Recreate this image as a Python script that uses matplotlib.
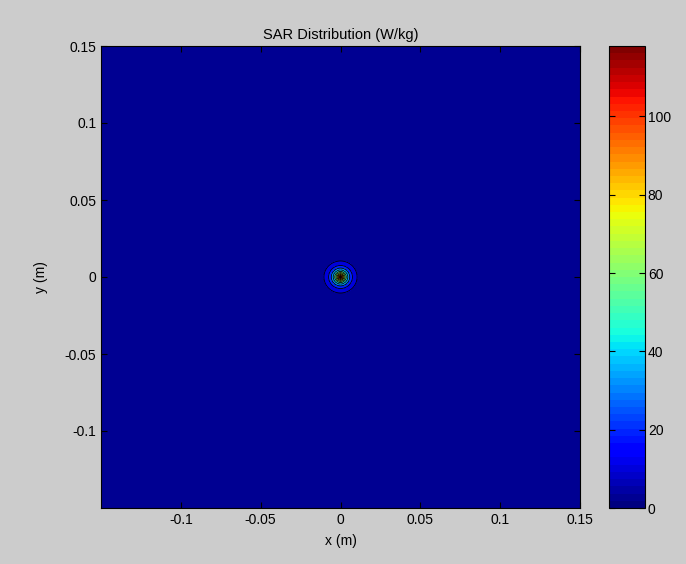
import numpy as np
import matplotlib
matplotlib.use("Agg")
import matplotlib.pyplot as plt

# --- data ---
x_m = np.linspace(-0.15, 0.15, 301)
y_m = np.linspace(-0.15, 0.15, 301)
peak_sar = 118.0          # W/kg at the source
decay_len = 0.0042        # m
contour_levels = [0, 10, 20, 30, 40, 50, 60, 70, 80, 90, 100, 110, 118]
x_ticks = [-0.1, -0.05, 0, 0.05, 0.1, 0.15]
y_ticks = [-0.1, -0.05, 0, 0.05, 0.1, 0.15]
cb_ticks = [0, 20, 40, 60, 80, 100]

X, Y = np.meshgrid(x_m, y_m)
R = np.hypot(X, Y)
SAR = peak_sar * np.exp(-R / decay_len)

plt.rcParams['font.family'] = ['Liberation Sans', 'DejaVu Sans']
plt.rcParams['font.size'] = 10

fig = plt.figure(figsize=(6.86, 5.64), dpi=100, facecolor='#cccccc')
ax = fig.add_axes([101/686, 1-508/564, (580-101)/686, (508-46)/564])
cax = fig.add_axes([609/686, 1-508/564, (645-609)/686, (508-46)/564])

cmap = plt.get_cmap('jet', 64)
band_colors = [cmap(max(lv, 2.5) / peak_sar) for lv in contour_levels[:-1]]
ax.contourf(X, Y, SAR, levels=contour_levels, colors=band_colors)
ax.contour(X, Y, SAR, levels=contour_levels[1:-1], colors='k', linewidths=0.6)

ax.set_xlim(-0.15, 0.15)
ax.set_ylim(-0.15, 0.15)
ax.set_xticks(x_ticks)
ax.set_yticks(y_ticks)
ax.set_xticklabels(['-0.1', '-0.05', '0', '0.05', '0.1', '0.15'])
ax.set_yticklabels(['-0.1', '-0.05', '0', '0.05', '0.1', '0.15'])
ax.tick_params(direction='in', top=True, right=True, length=4, width=0.8)
ax.set_xlabel('x (m)', labelpad=5)
ax.set_ylabel('y (m)', labelpad=12)
ax.set_title('SAR Distribution (W/kg)', fontsize=10.5, pad=5)

sm = matplotlib.cm.ScalarMappable(cmap=cmap, norm=matplotlib.colors.Normalize(0, peak_sar))
cb = fig.colorbar(sm, cax=cax)
cb.set_ticks(cb_ticks)
cax.tick_params(direction='in', left=True, right=True, length=4, width=0.8, pad=2)
cb.outline.set_linewidth(0.8)

fig.savefig('out.png', dpi=100, facecolor=fig.get_facecolor())
